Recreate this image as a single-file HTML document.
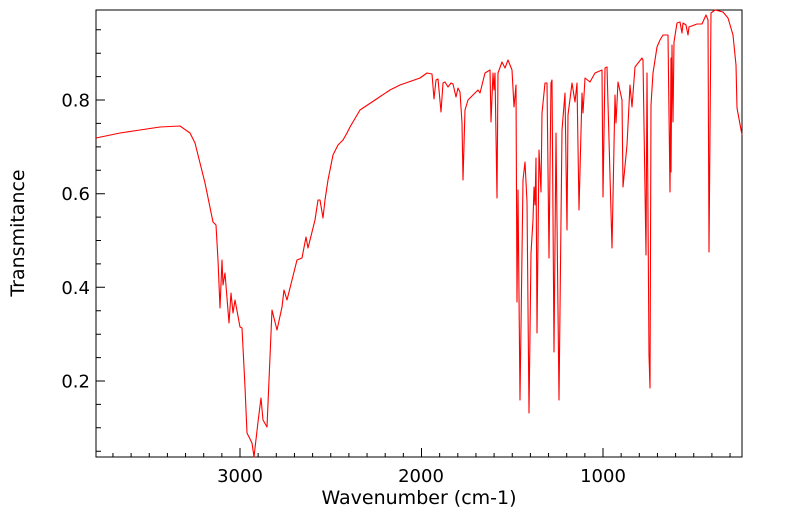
<!DOCTYPE html><html><head><style>body{margin:0;background:#fff}svg{display:block}text{font-family:"DejaVu Sans",sans-serif}</style></head><body>
<svg width="799" height="516" viewBox="0 0 799 516" xmlns="http://www.w3.org/2000/svg">
<rect x="96" y="10" width="646" height="447" fill="#fff" stroke="#000" stroke-width="1"/>
<path stroke="#000" stroke-width="1" fill="none" d="
M112.95,457v-4 M131.1,457v-4 M149.25,457v-4 M167.4,457v-4 M185.55,457v-4 M203.7,457v-4 M221.85,457v-4 M240,457v-9 M258.15,457v-4 M276.3,457v-4 M294.45,457v-4 M312.6,457v-4 M330.75,457v-4 M348.9,457v-4 M367.05,457v-4 M385.2,457v-4 M403.35,457v-4 M421.5,457v-9 M439.65,457v-4 M457.8,457v-4 M475.95,457v-4 M494.1,457v-4 M512.25,457v-4 M530.4,457v-4 M548.55,457v-4 M566.7,457v-4 M584.85,457v-4 M603,457v-9 M621.15,457v-4 M639.3,457v-4 M657.45,457v-4 M675.6,457v-4 M693.75,457v-4 M711.9,457v-4 M730.05,457v-4
M96,451.2h5 M96,427.8h5 M96,404.4h5 M96,381h9 M96,357.6h5 M96,334.2h5 M96,310.8h5 M96,287.3h9 M96,263.9h5 M96,240.5h5 M96,217.1h5 M96,193.7h9 M96,170.3h5 M96,146.9h5 M96,123.4h5 M96,100h9 M96,76.6h5 M96,53.2h5 M96,29.8h5"/>
<g font-size="18" fill="#000" text-anchor="end">
<text x="90" y="387.5">0.2</text><text x="90" y="294">0.4</text><text x="90" y="200">0.6</text><text x="90" y="106.5">0.8</text>
</g>
<g font-size="18" fill="#000" text-anchor="middle">
<text x="240" y="482">3000</text><text x="421" y="482">2000</text><text x="603" y="482">1000</text>
<text x="419" y="504" font-size="19">Wavenumber (cm-1)</text>
<text transform="translate(24,233) rotate(-90)" font-size="19">Transmitance</text>
</g>
<polyline fill="none" stroke="#f00" stroke-width="1.1" stroke-linejoin="round" points="96,138 120,133 140,130 160,127 180,126 190,133 195,143 205,183 213,222 216,225 218,260 220,308 222,260 223,285 225,273 229,323 231,293 233,313 235,300 240,327 242,328 245,387 247,433 252,443 254,457 258,422 261,398 263,420 267,427 272,310 277,330 282,307 284,290 287,300 292,280 297,260 302,258 306,237 308,248 315,220 318,200 320,200 323,218 325,200 328,180 333,155 338,145 343,140 347,133 350,127 360,110 375,100 390,90 400,85 420,78 427,73 432,74 434,99 436,80 438,79 441,112 443,83 445,82 448,87 451,83 453,84 456,97 458,88 460,92 462,123 463,180 465,110 468,100 473,95 478,90 480,93 485,73 490,70 491,122 493,73 494,90 495,73 497,198 498,73 502,62 505,68 508,60 512,70 514,107 516,85 517,302 518,190 520,400 523,180 525,162 527,202 529,413 531,253 533,220 534,187 535,205 536,158 537,333 539,150 541,192 542,113 545,83 547,83 549,258 551,83 552,80 554,352 556,133 559,400 562,130 565,93 567,230 568,115 572,83 575,102 577,83 579,210 582,93 583,113 585,78 590,82 595,73 602,70 603,197 605,68 607,67 612,248 615,95 616,123 618,82 622,100 623,187 627,145 630,85 632,107 635,67 642,58 643,60 646,255 647,73 649,355 650,388 651,105 653,73 657,47 660,40 663,35 668,35 670,192 671,58 671,172 672,45 673,122 674,42 677,23 680,22 682,33 683,23 686,25 688,35 689,27 697,24 702,24 706,15 708,20 709,252 711,13 715,10 723,12 728,18 733,35 736,65 737,108 742,135"/>
</svg></body></html>
